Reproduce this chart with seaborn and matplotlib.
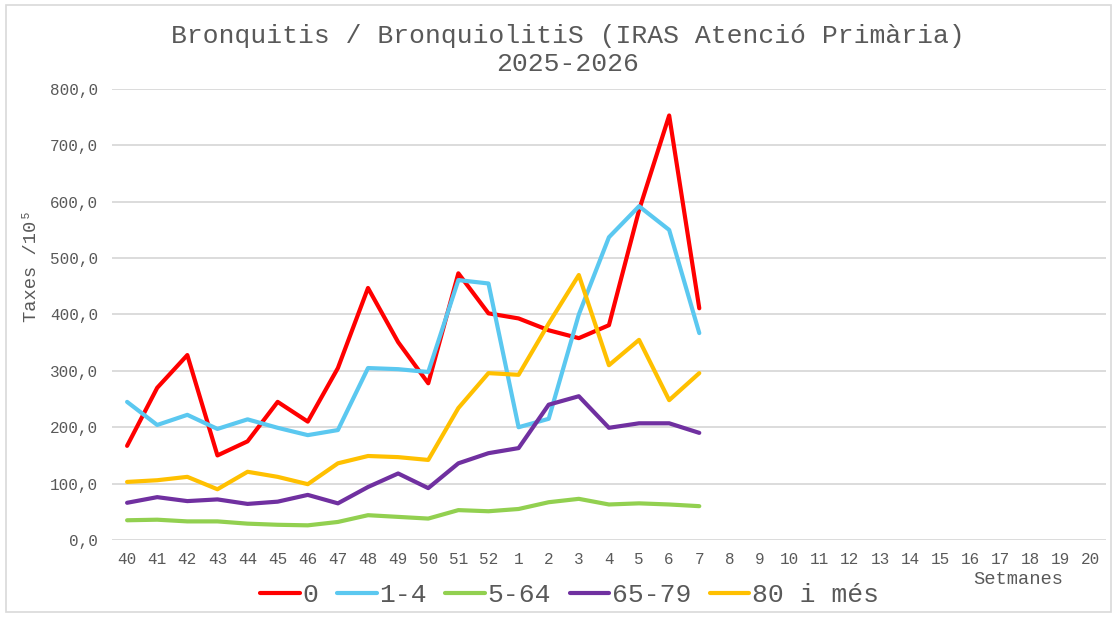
import pandas as pd
import numpy as np
import seaborn as sns
import matplotlib.pyplot as plt
from matplotlib.patches import Rectangle

# setmanes epidemiologiques 40..52, 1..20
weeks = [str(w) for w in list(range(40, 53)) + list(range(1, 21))]

groups = ['0', '1-4', '5-64', '65-79', '80 i més']
colors = ['#FF0000', '#5BC8F0', '#92D050', '#7030A0', '#FFC000']

rate_0 = [167, 270, 328, 150, 175, 245, 210, 305, 447, 351, 278, 473, 402, 393, 372, 358, 381, 585, 753, 411]
rate_1_4 = [245, 204, 222, 197, 214, 199, 186, 195, 305, 303, 298, 461, 455, 200, 215, 400, 537, 592, 550, 367]
rate_5_64 = [35, 36, 33, 33, 29, 27, 26, 32, 44, 41, 38, 53, 51, 55, 67, 73, 63, 65, 63, 60]
rate_65_79 = [66, 76, 69, 72, 64, 68, 80, 65, 94, 118, 92, 136, 154, 163, 240, 255, 199, 207, 207, 190]
rate_80 = [103, 106, 112, 90, 121, 112, 99, 136, 149, 147, 142, 234, 296, 293, 384, 470, 310, 355, 248, 296]

series = [rate_0, rate_1_4, rate_5_64, rate_65_79, rate_80]
rows = []
for g, vals in zip(groups, series):
    for w, v in zip(weeks, vals):
        rows.append({'setmana': w, 'grup': g, 'taxa': v})
df = pd.DataFrame(rows)

sns.set_theme(style='white')
plt.rcParams['font.family'] = ['Liberation Mono', 'DejaVu Sans Mono']
grey = '#595959'

fig = plt.figure(figsize=(11.17, 6.17), dpi=100)
ax = fig.add_axes([0.1003, 0.1248, 0.8897, 0.731])

sns.lineplot(data=df, x='setmana', y='taxa', hue='grup', hue_order=groups,
             palette=dict(zip(groups, colors)), linewidth=3, ax=ax, sort=False)

ax.set_xticks(range(len(weeks)))
ax.set_xticklabels(weeks)
ax.set_xlim(-0.5, len(weeks) - 0.5)
ax.set_ylim(0, 800)
yt = np.arange(0, 801, 100)
ax.set_yticks(yt)
ax.set_yticklabels([f'{v:.1f}'.replace('.', ',') for v in yt])
ax.tick_params(axis='both', length=0, labelsize=11.5, labelcolor=grey)
ax.tick_params(axis='x', pad=9)
ax.tick_params(axis='y', pad=10)
ax.yaxis.grid(True, color='#D9D9D9', linewidth=1.3)
ax.xaxis.grid(False)
for s in ax.spines.values():
    s.set_visible(False)

ax.set_xlabel('')
ax.set_ylabel('Taxes /10⁵', fontsize=13.5, color=grey)
ax.yaxis.set_label_coords(-0.072, 0.608)
fig.text(0.912, 0.061, 'Setmanes', fontsize=13.5, color=grey, ha='center', va='center')

fig.text(0.508, 0.919, 'Bronquitis / BronquiolitiS (IRAS Atenció Primària)\n2025-2026',
         fontsize=19, color=grey, ha='center', va='center', linespacing=1.25)

ax.legend(handles=ax.get_legend().legend_handles,
          labels=groups, loc='center', bbox_to_anchor=(0.51, 0.035),
          bbox_transform=fig.transFigure, ncol=5, frameon=False,
          fontsize=19, handlelength=1.5, handletextpad=0.1, columnspacing=0.7,
          labelcolor=grey)
for h in ax.get_legend().legend_handles:
    h.set_linewidth(3)

fig.patches.append(Rectangle((0.005, 0.008), 0.99, 0.984, transform=fig.transFigure,
                             fill=False, edgecolor='#D9D9D9', linewidth=1.2))

fig.savefig('out.png', dpi=100, facecolor='white')
